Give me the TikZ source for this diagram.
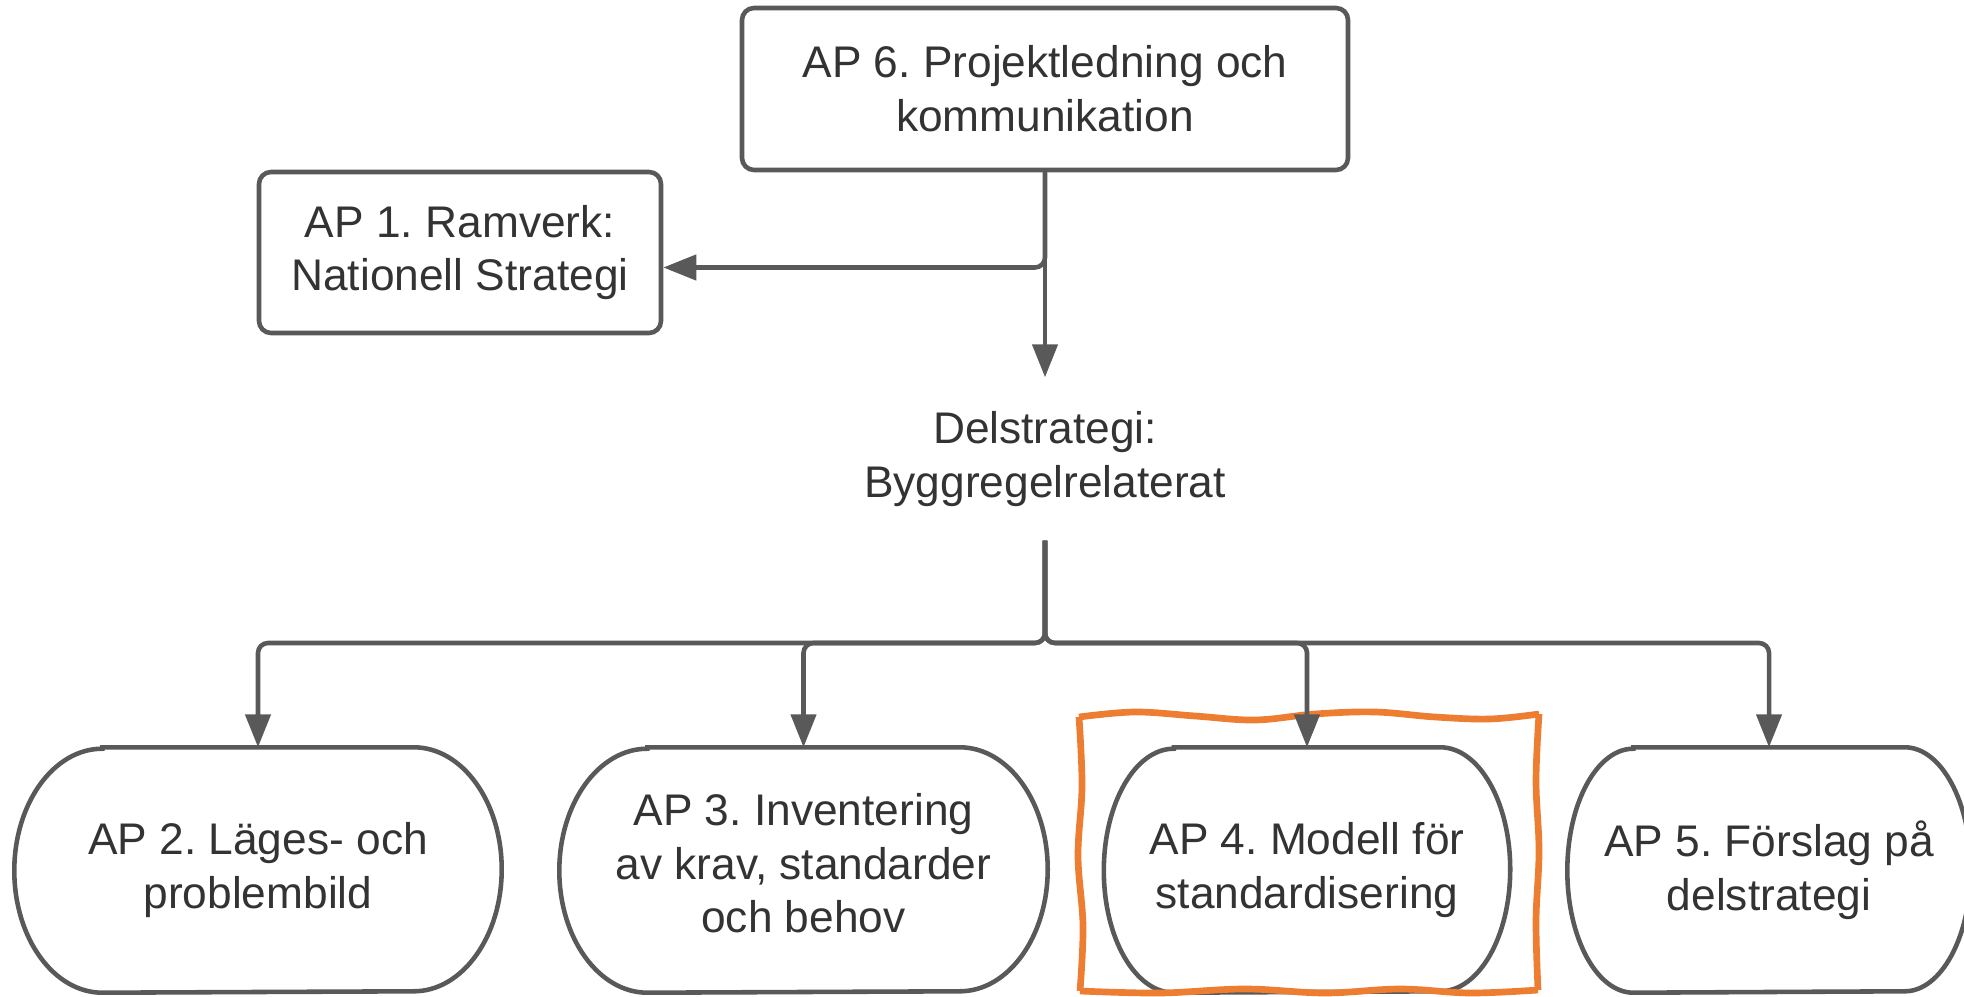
\documentclass[tikz,border=0pt]{standalone}
\usepackage{fontspec}
\setmainfont{Liberation Sans}
\usetikzlibrary{arrows.meta,positioning,calc}
\definecolor{linegray}{RGB}{89,89,89}
\definecolor{textgray}{RGB}{51,51,51}
\definecolor{markorange}{RGB}{237,125,49}
\newcommand{\apfont}{\fontsize{12.6pt}{15.3pt}\selectfont}
\frenchspacing

\tikzset{
    apbox/.style={draw=linegray, line width=1.3pt, rounded corners=0.12cm, fill=white,
        align=center, text=textgray, font=\apfont, inner sep=0pt},
    aproll/.style={align=center, text=textgray, font=\apfont, inner sep=0pt,
        minimum height=2.44cm},
    rolledge/.style={draw=linegray, line width=1.3pt},
    hilite/.style={draw=markorange, line width=1.9pt},
    conn/.style={draw=linegray, line width=1.3pt, rounded corners=0.1cm,
        -{Triangle[length=0.33cm,width=0.25cm]}},
}

\begin{document}
\begin{tikzpicture}
    \useasboundingbox (0,0) rectangle (19.64,9.96);

    % top
    \node[apbox, minimum width=6.06cm, minimum height=1.62cm] (ap6) at (10.45,9.07)
        {AP 6. Projektledning och\\kommunikation};
    \node[apbox, minimum width=4.02cm, minimum height=1.61cm] (ap1) at (4.60,7.435)
        {AP 1. Ramverk:\\Nationell Strategi};
    \node[align=center, text=textgray, font=\apfont, inner sep=0pt, minimum height=1.62cm]
        (del) at (10.45,5.37) {Delstrategi:\\Byggregelrelaterat};
    \coordinate (bus) at (10.45,3.53);

    % work packages
    \node[aproll, minimum width=4.86cm] (ap2) at (2.58,1.26)
        {AP 2. Läges- och\\problembild};
    \node[aproll, minimum width=4.87cm] (ap3) at (8.035,1.26)
        {AP 3. Inventering\\av krav, standarder\\och behov\rule[-0.14cm]{0pt}{0pt}};
    \node[aproll, minimum width=4.05cm] (ap4) at (13.07,1.26)
        {AP 4. Modell för\\standardisering};
    \node[aproll, minimum width=4.02cm] (ap5) at (17.69,1.26)
        {AP 5. Förslag på\\delstrategi};

    % rounded outlines
    \foreach \n/\a in {ap2/0.88, ap3/0.88, ap4/0.70, ap5/0.66} {
        \draw[rolledge] ([xshift=\a cm]\n.north west) -- ([xshift=-\a cm]\n.north east)
            arc[start angle=90, end angle=-90, x radius=\a cm, y radius=1.22cm]
            -- ([xshift=\a cm]\n.south west)
            arc[start angle=270, end angle=90, x radius=\a cm, y radius=1.22cm] -- cycle;
    }

    % hand drawn mark round AP 4
    \draw[hilite] plot[smooth, tension=0.6] coordinates {(10.79,2.79) (11.35,2.84) (11.95,2.80)
        (12.55,2.76) (13.15,2.82) (13.75,2.84) (14.35,2.79) (14.90,2.77) (15.39,2.82)};
    \draw[hilite] plot[smooth, tension=0.6] coordinates {(15.39,2.82) (15.36,2.15) (15.39,1.45)
        (15.36,0.75) (15.38,0.06)};
    \draw[hilite] plot[smooth, tension=0.6] coordinates {(15.38,0.06) (14.70,0.03) (14.00,0.07)
        (13.25,0.03) (12.45,0.07) (11.60,0.03) (10.80,0.05)};
    \draw[hilite] plot[smooth, tension=0.6] coordinates {(10.80,0.05) (10.83,0.70) (10.78,1.40)
        (10.82,2.10) (10.79,2.79)};

    % connectors
    \draw[conn] (ap6.south) |- ([yshift=-0.15cm]ap1.east);
    \draw[conn] (ap6.south) -- (del.north);
    \foreach \n in {ap2,ap3,ap4,ap5} {
        \draw[conn] (del.south) -- (bus) -| (\n.north);
    }
\end{tikzpicture}
\end{document}
